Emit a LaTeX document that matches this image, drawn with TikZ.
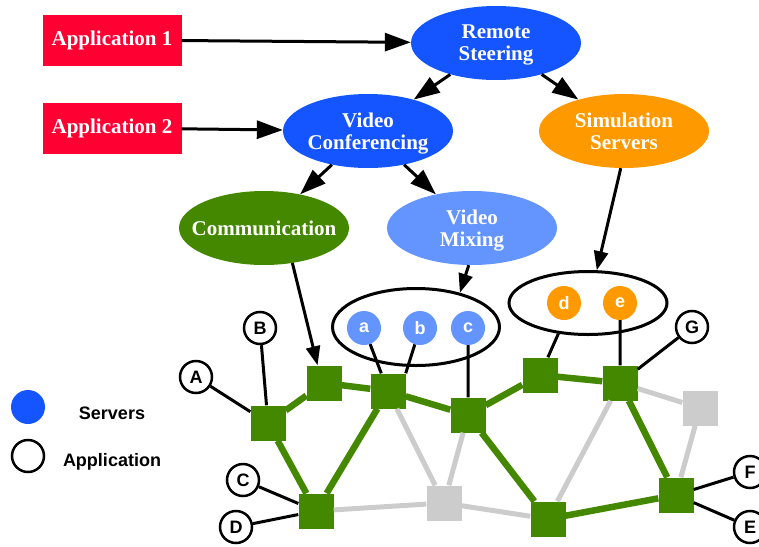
\documentclass[tikz,border=0pt]{standalone}
\usepackage{fontspec}
\setmainfont{Liberation Serif}
\setsansfont{Liberation Sans}
\usepackage{tikz}
\usetikzlibrary{shapes,arrows.meta,positioning}
\definecolor{rojoapp}{RGB}{255,0,51}
\definecolor{azulsrv}{RGB}{21,85,255}
\definecolor{celeste}{RGB}{100,149,255}
\definecolor{naranja}{RGB}{255,153,0}
\definecolor{verdered}{RGB}{68,136,0}
\definecolor{grisred}{RGB}{204,204,204}
\tikzstyle{aplicacion} = [fill=rojoapp, text=white, font=\bfseries\fontsize{21}{22}\selectfont, minimum width=139pt, minimum height=51pt, inner sep=0pt]
\tikzstyle{servidor} = [ellipse, minimum width=170pt, minimum height=74pt, inner sep=0pt]
\tikzstyle{rotulo} = [text=white, align=center, text depth=0pt, font=\bfseries\fontsize{21}{22}\selectfont]
\tikzstyle{grupo} = [ellipse, draw, line width=3pt, inner sep=0pt]
\tikzstyle{proceso} = [circle, minimum size=34pt, inner sep=0pt, text=white, font=\sffamily\bfseries\fontsize{18}{18}\selectfont]
\tikzstyle{hoja} = [circle, draw, fill=white, line width=2.5pt, minimum size=32pt, inner sep=0pt, font=\sffamily\bfseries\fontsize{18}{18}\selectfont]
\tikzstyle{nodored} = [fill=verdered, minimum size=35pt, inner sep=0pt]
\tikzstyle{apagado} = [fill=grisred, minimum size=35pt, inner sep=0pt]
\tikzstyle{flecha} = [line width=3pt, -{Triangle[length=26pt,width=18pt]}]
\tikzstyle{flechita} = [line width=3pt, -{Triangle[length=19pt,width=14pt]}]
\tikzstyle{enlace} = [line width=3pt]
\tikzstyle{activo} = [line width=6.5pt, draw=verdered]
\tikzstyle{inactivo} = [line width=5pt, draw=grisred]
\tikzstyle{leyenda} = [font=\sffamily\bfseries\fontsize{18}{20}\selectfont]

\begin{document}
\begin{tikzpicture}[x=1pt,y=-1pt]
\useasboundingbox (0,0) rectangle (759,546);
% aplicaciones y servidores
\node[aplicacion] (app1) at (112,40) {Application 1};
\node[aplicacion] (app2) at (112,128) {Application 2};
\node[servidor, fill=azulsrv, label={[rotulo]center:Remote\\Steering}] (steer) at (496,43) {};
\node[servidor, fill=azulsrv, label={[rotulo]center:Video\\Conferencing}] (vconf) at (368,131) {};
\node[servidor, fill=naranja, label={[rotulo]center:Simulation\\Servers}] (sim) at (624,131) {};
\node[servidor, fill=verdered, label={[rotulo]center:Communication}] (comm) at (264,228) {};
\node[servidor, fill=celeste, label={[rotulo]center:Video\\Mixing}] (vmix) at (472,228) {};
% grupos de procesos
\node[grupo, minimum width=167pt, minimum height=77pt] (grp1) at (416,327) {};
\node[grupo, minimum width=158pt, minimum height=63pt] (grp2) at (588,303) {};
\node[proceso, fill=celeste] (pa) at (364,328) {a};
\node[proceso, fill=celeste] (pb) at (420,328) {b};
\node[proceso, fill=celeste] (pc) at (468,328) {c};
\node[proceso, fill=naranja] (pd) at (564,303) {d};
\node[proceso, fill=naranja] (pe) at (620,303) {e};
% red
\node[nodored] (s1) at (268,423) {};
\node[nodored] (s2) at (324,383) {};
\node[nodored] (s3) at (388,391) {};
\node[nodored] (s4) at (468,415) {};
\node[nodored] (s5) at (316,511) {};
\node[nodored] (s6) at (540,375) {};
\node[nodored] (s7) at (620,383) {};
\node[nodored] (s8) at (676,495) {};
\node[nodored] (s9) at (548,519) {};
\node[apagado] (g1) at (444,503) {};
\node[apagado] (g2) at (700,408) {};
% hojas
\node[hoja] (hA) at (196,377) {A};
\node[hoja] (hB) at (260,328) {B};
\node[hoja] (hC) at (243,480) {C};
\node[hoja] (hD) at (236,527) {D};
\node[hoja] (hE) at (750,527) {E};
\node[hoja] (hF) at (750,472) {F};
\node[hoja] (hG) at (692,327) {G};
% leyenda
\node[circle, fill=azulsrv, minimum size=34pt, inner sep=0pt] (leg1) at (28,407) {};
\node[circle, draw, line width=2.5pt, minimum size=32pt, inner sep=0pt] (leg2) at (28,456) {};
\node[leyenda] (txt1) at (112,413) {Servers};
\node[leyenda] (txt2) at (112,462) {Application};
% enlaces
\draw[inactivo] (s3) -- (g1) (s4) -- (g1) (s5) -- (g1) (g1) -- (s9) (s9) -- (s7) (s7) -- (g2) (g2) -- (s8);
\draw[activo] (s1) -- (s2) (s1) -- (s5) (s2) -- (s3) (s3) -- (s5) (s3) -- (s4) (s4) -- (s6) (s6) -- (s7) (s7) -- (s8) (s4) -- (s9) (s9) -- (s8);
\draw[enlace] (hA) -- (s1) (hB) -- (s1) (hC) -- (s5) (hD) -- (s5) (hF) -- (s8) (hE) -- (s8) (hG) -- (s7);
\draw[enlace] (pa) -- (s3) (pb) -- (s3.north east) (pc) -- (s4) (pe) -- (s7) (grp2.226) -- (s6);
% flechas
\draw[flecha] (app1) -- (steer);
\draw[flecha] (app2) -- (vconf);
\draw[flecha] (steer) -- (vconf);
\draw[flecha] (steer) -- (sim);
\draw[flecha] (vconf) -- (comm);
\draw[flecha] (vconf) -- (vmix);
\draw[flechita] (comm.309) -- (s2.110);
\draw[flechita] (vmix.265) -- (grp1.38);
\draw[flechita] (sim.265) -- (grp2.75);
\end{tikzpicture}
\end{document}
